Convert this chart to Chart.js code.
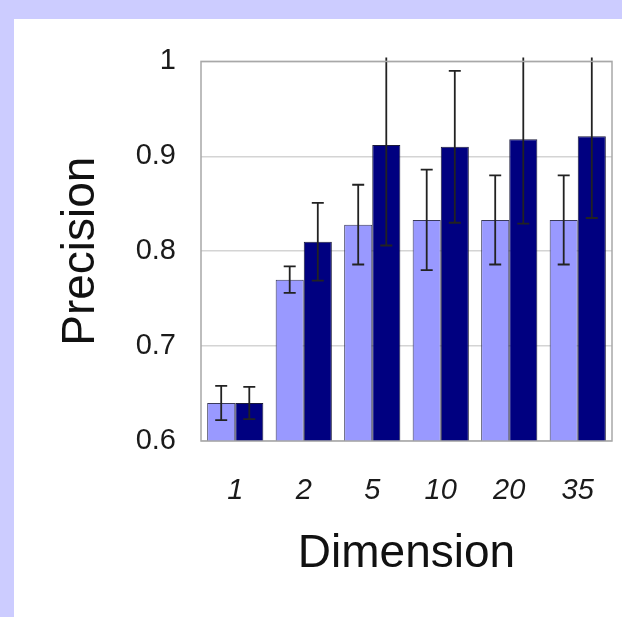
<!DOCTYPE html>
<html>
<head>
<meta charset="utf-8">
<script src="https://cdn.jsdelivr.net/npm/chart.js@4"></script>
<style>
  html, body { margin: 0; padding: 0; background: #ccccff; }
  #panel { position: absolute; left: 14px; top: 19px; width: 608px; height: 598px; background: #ffffff; }
  canvas { display: block; }
</style>
</head>
<body>
<div id="panel"><canvas id="precisionChart" width="608" height="598"></canvas></div>
<script>
// Data
let dimensions = ["1", "2", "5", "10", "20", "35"];
let lightValues = [0.64, 0.77, 0.828, 0.833, 0.833, 0.833];
let lightErrors = [0.018, 0.014, 0.042, 0.053, 0.047, 0.047];
let darkValues = [0.64, 0.81, 0.912, 0.91, 0.918, 0.921];
let darkErrors = [0.017, 0.041, 0.106, 0.08, 0.089, 0.086];
let yTickValues = [0.6, 0.7, 0.8, 0.9, 1];

const fontFamily = "'Liberation Sans', Arial, Helvetica, sans-serif";

// Error bars + plot frame drawn on top of the bars
const errorBars = {
    id: "errorBars",
    afterDatasetsDraw(chart) {
        const ctx = chart.ctx;
        const area = chart.chartArea;
        const yScale = chart.scales.y;

        ctx.save();
        ctx.beginPath();
        ctx.rect(area.left, area.top - 4, area.right - area.left, area.bottom - area.top + 4);
        ctx.clip();
        ctx.strokeStyle = "#222222";
        ctx.lineWidth = 1.8;
        chart.data.datasets.forEach(function(ds, i){
            const meta = chart.getDatasetMeta(i);
            meta.data.forEach(function(bar, j){
                const v = ds.data[j];
                const e = ds.errors[j];
                const top = yScale.getPixelForValue(v + e);
                const bot = yScale.getPixelForValue(v - e);
                const x = bar.x;
                ctx.beginPath();
                ctx.moveTo(x, top);
                ctx.lineTo(x, bot);
                ctx.moveTo(x - 6, top);
                ctx.lineTo(x + 6, top);
                ctx.moveTo(x - 6, bot);
                ctx.lineTo(x + 6, bot);
                ctx.stroke();
            });
        });
        ctx.restore();

        ctx.save();
        ctx.strokeStyle = "#a8a8a8";
        ctx.lineWidth = 1.5;
        ctx.strokeRect(area.left, area.top, area.right - area.left, area.bottom - area.top);
        ctx.restore();
    }
};

const ctx = document.getElementById("precisionChart").getContext("2d");
let precisionChart = new Chart(ctx, {
    type: "bar",
    data: {
        labels: dimensions,
        datasets: [
            {
                label: "light",
                data: lightValues,
                errors: lightErrors,
                backgroundColor: "#9999ff",
                borderColor: "#3a3a5a",
                borderWidth: 1,
            },
            {
                label: "dark",
                data: darkValues,
                errors: darkErrors,
                backgroundColor: "#000080",
                borderColor: "#1a1a3a",
                borderWidth: 1,
            },
        ],
    },
    options: {
        responsive: false,
        animation: false,
        devicePixelRatio: 1,
        layout: { padding: { top: 40, right: 10, left: 0, bottom: 0 } },
        plugins: {
            legend: { display: false },
            tooltip: { enabled: false },
        },
        datasets: {
            bar: { categoryPercentage: 0.82, barPercentage: 1.0 },
        },
        scales: {
            x: {
                grid: { display: false, drawTicks: false },
                border: { display: false },
                ticks: {
                    padding: 33,
                    color: "#1a1a1a",
                    font: { family: fontFamily, size: 29, style: "italic" },
                },
                title: {
                    display: true,
                    text: "Dimension",
                    color: "#111111",
                    font: { family: fontFamily, size: 46 },
                    padding: { top: 0, bottom: 35 },
                },
                afterFit: function(scale){
                    scale.height = 176;
                    scale.paddingLeft = 0;
                    scale.paddingRight = 0;
                },
            },
            y: {
                min: 0.6,
                max: 1,
                afterBuildTicks: function(scale){
                    scale.ticks = yTickValues.map(function(v){ return { value: v }; });
                },
                grid: { color: "#d4d4d4", lineWidth: 1.5, drawTicks: false },
                border: { display: false },
                ticks: {
                    padding: 25,
                    color: "#1a1a1a",
                    font: { family: fontFamily, size: 29 },
                    callback: function(v){ return String(Math.round(v * 10) / 10); },
                },
                title: {
                    display: true,
                    text: "Precision",
                    color: "#111111",
                    font: { family: fontFamily, size: 46 },
                    padding: { top: 40, bottom: 0 },
                },
                afterFit: function(scale){ scale.width = 187; },
            },
        },
    },
    plugins: [errorBars],
});
</script>
</body>
</html>
